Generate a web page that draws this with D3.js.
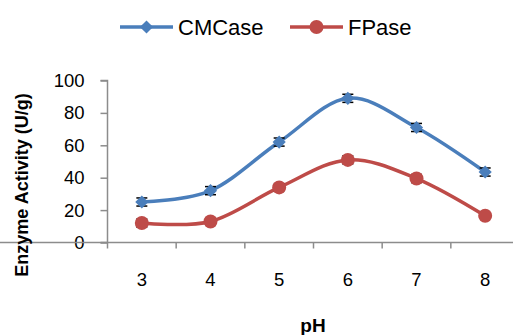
<!DOCTYPE html>
<html><head><meta charset="utf-8">
<script src="https://cdn.jsdelivr.net/npm/d3@7"></script>
<style>body{margin:0;background:#fff}svg{display:block}</style>
</head><body>
<script>
const categories = ["3","4","5","6","7","8"];
const cmcase = [25, 32, 62, 89, 71, 43.5];
const fpase = [12, 13, 34, 51, 39.5, 16.5];
const cmcaseErr = [2.5, 2.5, 2.5, 2.5, 2.5, 2.5];
const fpaseErr = [2.5, 2, 2, 2.5, 2.5, 1];
const yTicks = [0, 20, 40, 60, 80, 100];
const seriesNames = ["CMCase", "FPase"];
const colors = ["#4A7EBB", "#BE4B48"];

const W = 513, H = 335;
const svg = d3.select("body").append("svg").attr("width", W).attr("height", H);
const font = "'Liberation Sans', Arial, sans-serif";

const x = d3.scaleBand().domain(categories).range([107.5, 519.5]);
const y = d3.scaleLinear().domain([0, 100]).range([242.5, 80.5]);

// axes
const yAxis = svg.append("g").attr("transform", "translate(107.5,0)")
  .call(d3.axisLeft(y).tickValues(yTicks).tickSize(7).tickPadding(16));
const xAxis = svg.append("g").attr("transform", "translate(0,242.5)")
  .call(d3.axisBottom(x).tickSize(0).tickPadding(30));
// category boundary ticks
xAxis.selectAll(".bt").data(categories.concat(["_end"])).enter().append("line")
  .attr("x1", (d, i) => 107.5 + i * x.step()).attr("x2", (d, i) => 107.5 + i * x.step())
  .attr("y1", 0).attr("y2", 6).attr("stroke", "#8c8c8c").attr("stroke-width", 1.5);
[yAxis, xAxis].forEach(g => {
  g.selectAll(".domain").attr("stroke", "#8c8c8c").attr("stroke-width", 1.5);
  g.selectAll(".tick line").attr("stroke", "#8c8c8c").attr("stroke-width", 1.5);
  g.selectAll("text").attr("font-family", font).attr("font-size", 18.5).attr("fill", "#000");
});
yAxis.select(".domain").attr("d", "M-7,80.5H0V242.5H-7");
xAxis.select(".domain").attr("d", "M0,0H520");

const line = d3.line().x((d, i) => x(categories[i]) + x.bandwidth() / 2).y(d => y(d))
  .curve(d3.curveCatmullRom.alpha(0));

const data = [cmcase, fpase];
const errs = [cmcaseErr, fpaseErr];

data.forEach((vals, s) => {
  const g = svg.append("g");
  g.append("path").attr("d", line(vals)).attr("fill", "none")
    .attr("stroke", colors[s]).attr("stroke-width", 3.5);
  // error bars
  vals.forEach((v, i) => {
    const cx = x(categories[i]) + x.bandwidth() / 2;
    const e = errs[s][i];
    g.append("line").attr("x1", cx).attr("x2", cx).attr("y1", y(v - e)).attr("y2", y(v + e))
      .attr("stroke", "#000").attr("stroke-width", 1);
    [v - e, v + e].forEach(t => g.append("line").attr("x1", cx - 5.5).attr("x2", cx + 5.5)
      .attr("y1", y(t)).attr("y2", y(t)).attr("stroke", "#000").attr("stroke-width", 1.5));
  });
  vals.forEach((v, i) => {
    const cx = x(categories[i]) + x.bandwidth() / 2;
    if (s === 0) {
      g.append("path").attr("d", d3.symbol(d3.symbolDiamond2, 110)())
        .attr("transform", `translate(${cx},${y(v)})`).attr("fill", colors[s]);
    } else {
      g.append("circle").attr("cx", cx).attr("cy", y(v)).attr("r", 7).attr("fill", colors[s]);
    }
  });
});

// legend
const legX = [120, 290];
seriesNames.forEach((n, s) => {
  const g = svg.append("g");
  g.append("line").attr("x1", legX[s]).attr("x2", legX[s] + 53).attr("y1", 27).attr("y2", 27)
    .attr("stroke", colors[s]).attr("stroke-width", 3.5);
  if (s === 0) g.append("path").attr("d", d3.symbol(d3.symbolDiamond2, 110)())
    .attr("transform", `translate(${legX[s] + 26.5},27)`).attr("fill", colors[s]);
  else g.append("circle").attr("cx", legX[s] + 26.5).attr("cy", 27).attr("r", 7).attr("fill", colors[s]);
  g.append("text").attr("x", legX[s] + 58).attr("y", 35).text(n)
    .attr("font-family", font).attr("font-size", 22).attr("fill", "#000");
});

// axis titles
svg.append("text").attr("x", 313).attr("y", 332).attr("text-anchor", "middle")
  .attr("font-family", font).attr("font-weight", "bold").attr("font-size", 19).text("pH");
svg.append("text").attr("transform", "translate(28,185) rotate(-90)").attr("text-anchor", "middle")
  .attr("font-family", font).attr("font-weight", "bold").attr("font-size", 18)
  .text("Enzyme Activity (U/g)");
</script>
</body></html>
